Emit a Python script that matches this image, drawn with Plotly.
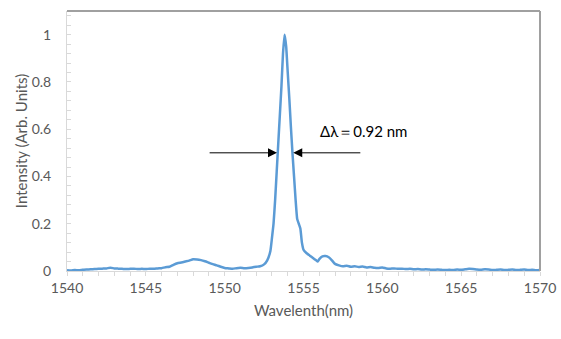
import plotly.graph_objects as go

wavelength = [
    1540.0, 1540.25, 1540.5, 1540.75, 1541.0, 1541.25, 1541.5, 1541.75, 1542.0, 1542.25,
    1542.5, 1542.75, 1543.0, 1543.25, 1543.5, 1543.75, 1544.0, 1544.25, 1544.5, 1544.75,
    1545.0, 1545.25, 1545.5, 1545.75, 1546.0, 1546.25, 1546.5, 1546.75, 1547.0, 1547.25,
    1547.5, 1547.75, 1548.0, 1548.25, 1548.5, 1548.75, 1549.0, 1549.25, 1549.5, 1549.75,
    1550.0, 1550.25, 1550.5, 1550.75, 1551.0, 1551.25, 1551.5, 1551.75, 1552.0, 1552.25,
    1552.5, 1552.7, 1552.9, 1553.0, 1553.1, 1553.2, 1553.3, 1553.4, 1553.5, 1553.6,
    1553.7, 1553.8, 1553.9, 1554.0, 1554.1, 1554.2, 1554.3, 1554.4, 1554.5, 1554.6,
    1554.7, 1554.8, 1554.9, 1555.0, 1555.2, 1555.4, 1555.6, 1555.8, 1555.9, 1556.0,
    1556.2, 1556.4, 1556.6, 1556.8, 1557.0, 1557.25, 1557.5, 1557.75, 1558.0, 1558.25,
    1558.5, 1558.75, 1559.0, 1559.25, 1559.5, 1559.75, 1560.0, 1560.25, 1560.5, 1560.75,
    1561.0, 1561.25, 1561.5, 1561.75, 1562.0, 1562.25, 1562.5, 1562.75, 1563.0, 1563.25,
    1563.5, 1563.75, 1564.0, 1564.25, 1564.5, 1564.75, 1565.0, 1565.25, 1565.5, 1565.75,
    1566.0, 1566.25, 1566.5, 1566.75, 1567.0, 1567.25, 1567.5, 1567.75, 1568.0, 1568.25,
    1568.5, 1568.75, 1569.0, 1569.25, 1569.5, 1569.75, 1570.0,
]
intensity = [
    0.003, 0.002, 0.004, 0.003, 0.005, 0.006, 0.007, 0.008, 0.009, 0.010,
    0.011, 0.014, 0.011, 0.010, 0.009, 0.008, 0.009, 0.010, 0.008, 0.009,
    0.008, 0.010, 0.009, 0.011, 0.012, 0.016, 0.018, 0.026, 0.033, 0.036,
    0.040, 0.044, 0.050, 0.049, 0.046, 0.041, 0.035, 0.029, 0.024, 0.018,
    0.013, 0.011, 0.009, 0.012, 0.014, 0.012, 0.013, 0.015, 0.018, 0.020,
    0.028, 0.045, 0.085, 0.14, 0.20, 0.30, 0.42, 0.54, 0.66, 0.78,
    0.92, 1.00, 0.95, 0.84, 0.73, 0.61, 0.50, 0.40, 0.30, 0.22,
    0.20, 0.18, 0.12, 0.09, 0.075, 0.065, 0.055, 0.045, 0.040, 0.050,
    0.062, 0.063, 0.058, 0.045, 0.030, 0.024, 0.020, 0.022, 0.018, 0.020,
    0.017, 0.019, 0.015, 0.017, 0.014, 0.013, 0.015, 0.011, 0.010, 0.011,
    0.009, 0.010, 0.008, 0.009, 0.007, 0.008, 0.006, 0.007, 0.006, 0.005,
    0.006, 0.005, 0.004, 0.005, 0.004, 0.006, 0.005, 0.007, 0.009, 0.008,
    0.006, 0.005, 0.007, 0.006, 0.004, 0.005, 0.006, 0.004, 0.005, 0.006,
    0.004, 0.005, 0.006, 0.004, 0.005, 0.003, 0.004,
]

x_ticks = [1540, 1545, 1550, 1555, 1560, 1565, 1570]
y_ticks = [0, 0.2, 0.4, 0.6, 0.8, 1.0]
y_tick_labels = ["0", "0.2", "0.4", "0.6", "0.8", "1"]

fwhm_label = "Δλ＝0.92 nm"
half_level = 0.5
left_arrow = (1548.95, 1553.32)
right_arrow = (1558.7, 1554.35)
label_pos = (1558.8, 0.593)

grey = "#595959"
font_family = "Lato, Open Sans, sans-serif"

fig = go.Figure()
fig.add_trace(go.Scatter(
    x=wavelength, y=intensity, mode="lines",
    line=dict(color="#5B9BD5", width=2.5, shape="spline", smoothing=0.4),
    showlegend=False, hoverinfo="skip",
))

for start, tip in (left_arrow, right_arrow):
    fig.add_annotation(
        x=tip, y=half_level, ax=start, ay=half_level,
        xref="x", yref="y", axref="x", ayref="y",
        showarrow=True, arrowhead=2, arrowsize=1.8, arrowwidth=1,
        arrowcolor="black", text="",
    )

fig.add_annotation(
    x=label_pos[0], y=label_pos[1], xref="x", yref="y",
    text=fwhm_label, showarrow=False,
    font=dict(family=font_family, size=15, color="black"),
)

# top and right border lines
fig.add_shape(type="line", xref="paper", yref="paper", x0=0, x1=1, y0=1, y1=1,
              line=dict(color="#a0a0a0", width=2))
fig.add_shape(type="line", xref="paper", yref="paper", x0=1, x1=1, y0=0, y1=1,
              line=dict(color="#a0a0a0", width=2))

fig.update_layout(
    width=561, height=339,
    margin=dict(l=67, r=21, t=11, b=68, autoexpand=False),
    paper_bgcolor="white", plot_bgcolor="white",
    font=dict(family=font_family, size=13, color=grey),
    xaxis=dict(
        range=[1540, 1570], tickvals=x_ticks, showgrid=False, zeroline=False,
        automargin=False,
        showline=True, linecolor="#d9d9d9", linewidth=1,
        ticks="outside", ticklen=4, tickcolor="#d9d9d9",
        minor=dict(dtick=1, ticks="outside", ticklen=4, tickcolor="#d9d9d9"),
        tickfont=dict(size=14, color=grey),
        title=dict(text="Wavelenth(nm)", font=dict(size=15, color=grey), standoff=10),
    ),
    yaxis=dict(
        range=[0, 1.1], tickvals=y_ticks, ticktext=y_tick_labels,
        showgrid=False, zeroline=False, automargin=False,
        showline=True, linecolor="#d9d9d9", linewidth=1,
        ticks="inside", ticklen=4, tickcolor="#d9d9d9",
        minor=dict(dtick=0.04, ticks="inside", ticklen=4, tickcolor="#d9d9d9"),
        tickfont=dict(size=14, color=grey), ticklabelstandoff=12,
        title=dict(text="Intensity (Arb. Units)", font=dict(size=15, color=grey), standoff=0),
    ),
)

fig.write_html("out.html")
